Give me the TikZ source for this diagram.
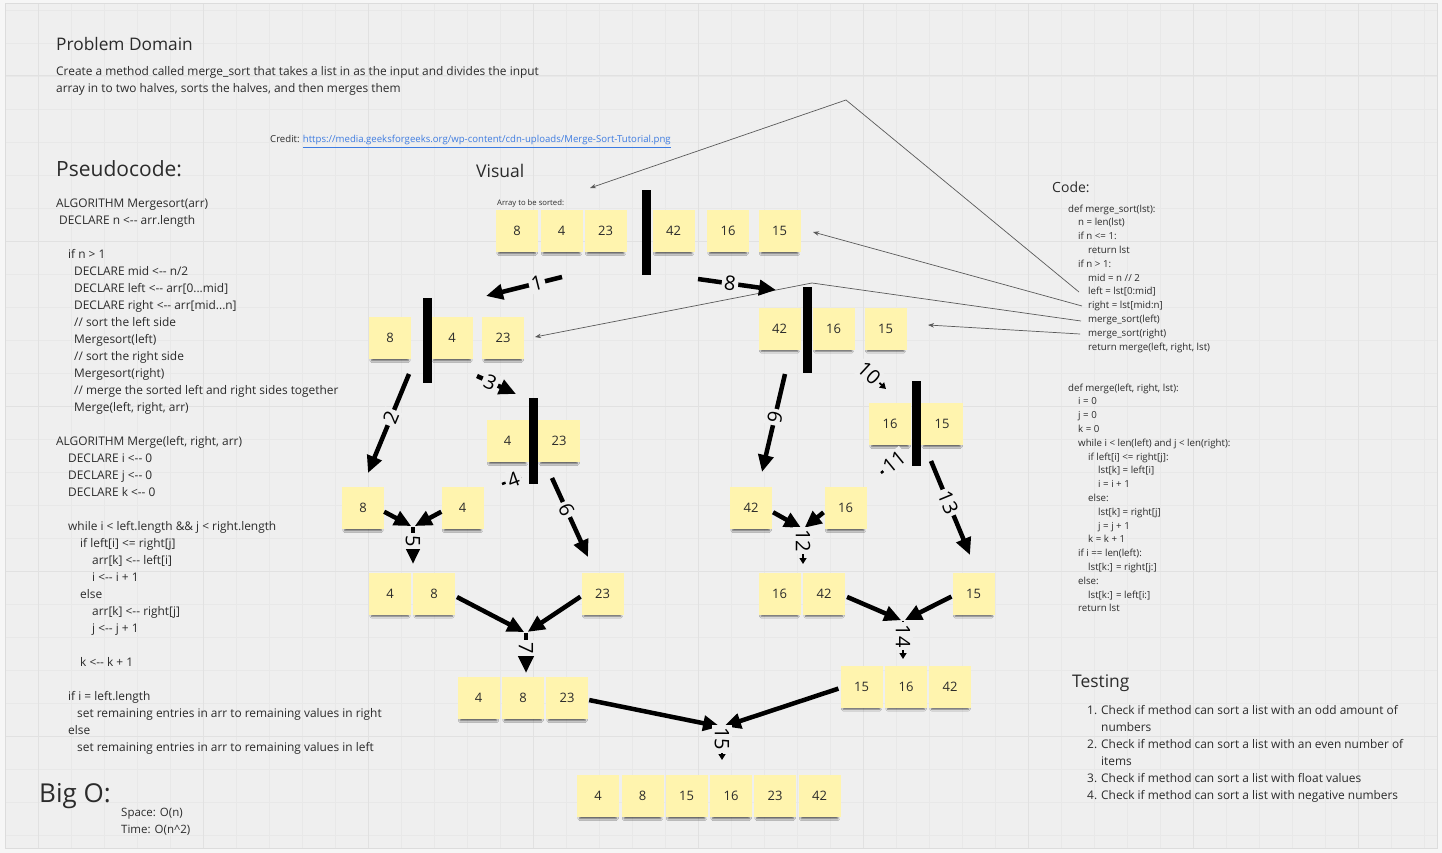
\documentclass[tikz,border=0pt]{standalone}
\usepackage{fontspec}
\setmainfont{Open Sans}
\usetikzlibrary{arrows.meta,shadows.blur}

\definecolor{pagebg}{HTML}{F6F6F6}
\definecolor{boardbg}{HTML}{EFEFEF}
\definecolor{gridminor}{HTML}{E8E8E8}
\definecolor{gridmajor}{HTML}{E1E1E1}
\definecolor{framec}{HTML}{DCDCDC}
\definecolor{sticky}{HTML}{FFF4AE}
\definecolor{inktext}{HTML}{2B2B2B}
\definecolor{linkblue}{HTML}{3D7BE0}
\definecolor{wire}{HTML}{5A5A5A}

\begin{document}
\begin{tikzpicture}[x=1pt,y=-1pt,
  txt/.style={inner sep=0pt, text=inktext, align=left},
  stickynote/.style={fill=sticky, minimum width=42pt, minimum height=42pt, inner sep=0pt,
    font=\fontsize{13}{13}\selectfont, text=inktext,
    blur shadow={shadow xshift=0pt, shadow yshift=-5pt, shadow scale=0.88,
      shadow opacity=60, shadow blur radius=2pt}},
  splitbar/.style={fill=black, minimum width=9pt, inner sep=0pt},
  heavy/.style={line width=4.5pt, -{Triangle[length=17pt,width=15pt]}},
  lightarrow/.style={line width=1.8pt, -{Triangle[length=6pt,width=7pt]}},
  stub/.style={line width=2.5pt},
  steplbl/.style={font=\fontsize{20}{20}\selectfont, fill=boardbg, inner sep=2.5pt, sloped},
  wirearrow/.style={draw=wire, line width=0.7pt, -{Stealth[length=6pt,width=4.5pt]}}
]
\useasboundingbox (0,0) rectangle (1442,853);

% ---------- board and grid ----------
\fill[pagebg] (0,0) rectangle (1442,853);
\fill[boardbg] (5,4) rectangle (1437,848);
\foreach \k in {1,...,43} \draw[gridminor, line width=0.6pt] ({5+33*\k},4) -- ({5+33*\k},848);
\foreach \k in {0,...,25} \draw[gridminor, line width=0.6pt] (5,{10+33*\k}) -- (1437,{10+33*\k});
\foreach \k in {0,...,8} \draw[gridmajor, line width=1pt] ({38+165*\k},4) -- ({38+165*\k},848);
\foreach \k in {0,...,4} \draw[gridmajor, line width=1pt] (5,{76+165*\k}) -- (1437,{76+165*\k});
\draw[framec, line width=1pt] (5,4) rectangle (1437,848);

% ---------- problem statement ----------
\node[txt, anchor=base west, font=\fontsize{17.3}{17.3}\selectfont] (pdtitle) at (56,51) {Problem Domain};
\node[txt, anchor=north west, font=\fontsize{11.9}{17}\selectfont] (pdbody) at (56,63.1)
  {\strut Create a method called merge\_sort that takes a list in as the input and divides the input\\
   array in to two halves, sorts the halves, and then merges them};

\node[txt, anchor=base west, font=\fontsize{9.6}{10}\selectfont] (credit) at (270,143)
  {Credit: \textcolor{linkblue}{\underline{https://media.geeksforgeeks.org/wp-content/cdn-uploads/Merge-Sort-Tutorial.png}}};

% ---------- pseudocode ----------
\node[txt, anchor=base west, font=\fontsize{21}{21}\selectfont] (pstitle) at (56,177) {Pseudocode:};
\node[txt, anchor=north west, font=\fontsize{11.9}{17}\selectfont] (pseudo) at (56,195.1)
  {\strut ALGORITHM Mergesort(arr)\\
   \hspace*{3pt}DECLARE n <-{}- arr.length\\
   \\
   \hspace*{12pt}if n > 1\\
   \hspace*{18pt}DECLARE mid <-{}- n/2\\
   \hspace*{18pt}DECLARE left <-{}- arr[0...mid]\\
   \hspace*{18pt}DECLARE right <-{}- arr[mid...n]\\
   \hspace*{18pt}// sort the left side\\
   \hspace*{18pt}Mergesort(left)\\
   \hspace*{18pt}// sort the right side\\
   \hspace*{18pt}Mergesort(right)\\
   \hspace*{18pt}// merge the sorted left and right sides together\\
   \hspace*{18pt}Merge(left, right, arr)\\
   \\
   ALGORITHM Merge(left, right, arr)\\
   \hspace*{12pt}DECLARE i <-{}- 0\\
   \hspace*{12pt}DECLARE j <-{}- 0\\
   \hspace*{12pt}DECLARE k <-{}- 0\\
   \\
   \hspace*{12pt}while i < left.length \&\& j < right.length\\
   \hspace*{24pt}if left[i] <= right[j]\\
   \hspace*{36pt}arr[k] <-{}- left[i]\\
   \hspace*{36pt}i <-{}- i + 1\\
   \hspace*{24pt}else\\
   \hspace*{36pt}arr[k] <-{}- right[j]\\
   \hspace*{36pt}j <-{}- j + 1\\
   \\
   \hspace*{24pt}k <-{}- k + 1\\
   \\
   \hspace*{12pt}if i = left.length\\
   \hspace*{21pt}set remaining entries in arr to remaining values in right\\
   \hspace*{12pt}else\\
   \hspace*{21pt}set remaining entries in arr to remaining values in left};

% ---------- complexity ----------
\node[txt, anchor=base west, font=\fontsize{26}{26}\selectfont] (bigo) at (39,802) {Big O:};
\node[txt, anchor=north west, font=\fontsize{11.5}{17}\selectfont] (cost) at (121,804.1)
  {\strut Space: O(n)\\Time: O(n\^{}2)};

% ---------- python code ----------
\node[txt, anchor=base west, font=\fontsize{14}{14}\selectfont] (codetitle) at (1052,193) {Code:};
\node[txt, anchor=north west, font=\fontsize{9.7}{13.8}\selectfont] (codesort) at (1068,202.3)
  {\strut def merge\_sort(lst):\\
   \hspace*{10pt}n = len(lst)\\
   \hspace*{10pt}if n <= 1:\\
   \hspace*{20pt}return lst\\
   \hspace*{10pt}if n > 1:\\
   \hspace*{20pt}mid = n // 2\\
   \hspace*{20pt}left = lst[0:mid]\\
   \hspace*{20pt}right = lst[mid:n]\\
   \hspace*{20pt}merge\_sort(left)\\
   \hspace*{20pt}merge\_sort(right)\\
   \hspace*{20pt}return merge(left, right, lst)};
\node[txt, anchor=north west, font=\fontsize{9.7}{13.8}\selectfont] (codemerge) at (1068,381.3)
  {\strut def merge(left, right, lst):\\
   \hspace*{10pt}i = 0\\
   \hspace*{10pt}j = 0\\
   \hspace*{10pt}k = 0\\
   \hspace*{10pt}while i < len(left) and j < len(right):\\
   \hspace*{20pt}if left[i] <= right[j]:\\
   \hspace*{30pt}lst[k] = left[i]\\
   \hspace*{30pt}i = i + 1\\
   \hspace*{20pt}else:\\
   \hspace*{30pt}lst[k] = right[j]\\
   \hspace*{30pt}j = j + 1\\
   \hspace*{20pt}k = k + 1\\
   \hspace*{10pt}if i == len(left):\\
   \hspace*{20pt}lst[k:] = right[j:]\\
   \hspace*{10pt}else:\\
   \hspace*{20pt}lst[k:] = left[i:]\\
   \hspace*{10pt}return lst};

% ---------- tests ----------
\node[txt, anchor=base west, font=\fontsize{17.4}{17.4}\selectfont] (testtitle) at (1072,687) {Testing};
\node[txt, anchor=north west, font=\fontsize{11.9}{17}\selectfont] (tests) at (1087,702.1)
  {\strut\makebox[14pt][l]{1.}Check if method can sort a list with an odd amount of\\
   \hspace*{14pt}numbers\\
   \makebox[14pt][l]{2.}Check if method can sort a list with an even number of\\
   \hspace*{14pt}items\\
   \makebox[14pt][l]{3.}Check if method can sort a list with float values\\
   \makebox[14pt][l]{4.}Check if method can sort a list with negative numbers};

% ---------- visual heading ----------
\node[txt, anchor=base west, font=\fontsize{17.5}{17.5}\selectfont] (vistitle) at (476,178) {Visual};
\node[txt, anchor=base west, font=\fontsize{7.7}{7.7}\selectfont] (arrcap) at (497,205.5) {Array to be sorted:};

% ---------- code-to-diagram pointers ----------
\coordinate (wl) at (1079,292);
\coordinate (wr) at (1082,306);
\coordinate (wml) at (1081,321);
\coordinate (wmr) at (1080,334);
\coordinate (wpk1) at (846,100);
\coordinate (wpk3) at (812,283);
\coordinate (wt1) at (590,188);
\coordinate (wt2) at (813,232);
\coordinate (wt3) at (535,337);
\coordinate (wt4) at (928,325);
\draw[wirearrow] (wl) -- (wpk1) -- (wt1);
\draw[wirearrow] (wr) -- (wt2);
\draw[wirearrow] (wml) -- (wpk3) -- (wt3);
\draw[wirearrow] (wmr) -- (wt4);

% ---------- sticky notes ----------
\node[stickynote] (r0a) at (517,231) {8};
\node[stickynote] (r0b) at (561.5,231) {4};
\node[stickynote] (r0c) at (605.5,231) {23};
\node[stickynote] (r0d) at (673.5,231) {42};
\node[stickynote] (r0e) at (728,231) {16};
\node[stickynote] (r0f) at (779.5,231) {15};

\node[stickynote] (r1a) at (390,338) {8};
\node[stickynote] (r1b) at (452,338) {4};
\node[stickynote] (r1c) at (503,338) {23};
\node[stickynote] (r1d) at (779.5,328.5) {42};
\node[stickynote] (r1e) at (833.5,328.5) {16};
\node[stickynote] (r1f) at (885.5,328.5) {15};

\node[stickynote] (r2a) at (507.5,441) {4};
\node[stickynote] (r2b) at (559,441) {23};
\node[stickynote] (r2c) at (890,424) {16};
\node[stickynote] (r2d) at (942,424) {15};

\node[stickynote] (r3a) at (363,508) {8};
\node[stickynote] (r3b) at (462.5,508) {4};
\node[stickynote] (r3c) at (751,508) {42};
\node[stickynote] (r3d) at (845.5,508) {16};

\node[stickynote] (r4a) at (390,593.5) {4};
\node[stickynote] (r4b) at (434,593.5) {8};
\node[stickynote] (r4c) at (602.5,593.5) {23};
\node[stickynote] (r4d) at (779.5,593.5) {16};
\node[stickynote] (r4e) at (824,593.5) {42};
\node[stickynote] (r4f) at (973.5,593.5) {15};

\node[stickynote] (r5a) at (478.5,698) {4};
\node[stickynote] (r5b) at (523,698) {8};
\node[stickynote] (r5c) at (567,698) {23};
\node[stickynote] (r5d) at (861.5,686.5) {15};
\node[stickynote] (r5e) at (906,686.5) {16};
\node[stickynote] (r5f) at (950,686.5) {42};

\node[stickynote] (r6a) at (598,796) {4};
\node[stickynote] (r6b) at (642.5,796) {8};
\node[stickynote] (r6c) at (686.5,796) {15};
\node[stickynote] (r6d) at (731,796) {16};
\node[stickynote] (r6e) at (775,796) {23};
\node[stickynote] (r6f) at (819.5,796) {42};

% ---------- split bars ----------
\node[splitbar, minimum height=85pt] (bar0) at (646.5,232.5) {};
\node[splitbar, minimum height=85pt] (bar1l) at (427,340.5) {};
\node[splitbar, minimum height=86pt] (bar1r) at (807.5,330) {};
\node[splitbar, minimum height=86pt] (bar2l) at (533.5,441) {};
\node[splitbar, minimum height=85pt] (bar2r) at (916,423.5) {};

% ---------- splitting steps ----------
\coordinate (s1) at (562,277);   \coordinate (e1) at (486,296);
\coordinate (s8) at (698,279);   \coordinate (e8) at (776,290);
\coordinate (s2) at (409,374);   \coordinate (e2) at (368,473);
\coordinate (s3) at (477,376);   \coordinate (e3) at (516,394);
\coordinate (s4) at (502,484);   \coordinate (e4) at (521,477);
\coordinate (s6) at (552,478);   \coordinate (e6) at (588,557);
\coordinate (s9) at (785,374);   \coordinate (e9) at (762,472);
\coordinate (s10) at (860,365);  \coordinate (e10) at (886,389);
\coordinate (s11) at (881,473);  \coordinate (e11) at (903,455);
\coordinate (s13) at (931,461);  \coordinate (e13) at (970,555);

\draw[heavy] (s1) -- node[steplbl, pos=.33] {1} (e1);
\draw[heavy] (s8) -- node[steplbl, pos=.41] {8} (e8);
\draw[heavy] (s2) -- node[steplbl, pos=.44] {2} (e2);
\draw[heavy] (s3) -- node[steplbl, pos=.34] {3} (e3);
\draw[stub] (s4) -- node[steplbl, pos=.6] {4} (e4);
\draw[heavy] (s6) -- node[steplbl, pos=.4] {6} (e6);
\draw[heavy] (s9) -- node[steplbl, pos=.44] {9} (e9);
\draw[lightarrow] (s10) -- node[steplbl, pos=.35] {10} (e10);
\draw[stub] (s11) -- node[steplbl, pos=.6] {11} (e11);
\draw[heavy] (s13) -- node[steplbl, pos=.44] {13} (e13);

% ---------- merging steps ----------
\coordinate (j5) at (413,527);   \coordinate (o5) at (413,564);
\coordinate (j7) at (526,633);   \coordinate (o7) at (526,673);
\coordinate (j12) at (803,529);  \coordinate (o12) at (803,564);
\coordinate (j14) at (903,621);  \coordinate (o14) at (903,659);
\coordinate (j15) at (722,727);  \coordinate (o15) at (722,760);

\draw[heavy, shorten >=2pt] (r3a.-10) -- (j5);
\draw[heavy, shorten >=2pt] (r3b.190) -- (j5);
\draw[heavy] (j5) -- node[steplbl, pos=.38] {5} (o5);

\draw[heavy, shorten >=2pt, shorten <=2pt] (r4b.-7) -- (j7);
\draw[heavy, shorten >=2pt, shorten <=1pt] (r4c.187) -- (j7);
\draw[heavy] (j7) -- node[steplbl, pos=.38] {7} (o7);

\draw[heavy, shorten >=2pt, shorten <=1pt] (r3c.-10) -- (j12);
\draw[heavy, shorten >=2pt, shorten <=1pt] (r3d.190) -- (j12);
\draw[lightarrow] (j12) -- node[steplbl, pos=.33] {12} (o12);

\draw[heavy, shorten >=2pt, shorten <=2pt] (r4e.-7) -- (j14);
\draw[heavy, shorten >=2pt, shorten <=1pt] (r4f.187) -- (j14);
\draw[lightarrow] (j14) -- node[steplbl, pos=.4] {14} (o14);

\draw[heavy, shorten >=2pt, shorten <=1pt] (r5c.-5) -- (j15);
\draw[heavy, shorten >=2pt, shorten <=2pt] (r5d.184) -- (j15);
\draw[lightarrow] (j15) -- node[steplbl, pos=.36] {15} (o15);
\end{tikzpicture}
\end{document}
